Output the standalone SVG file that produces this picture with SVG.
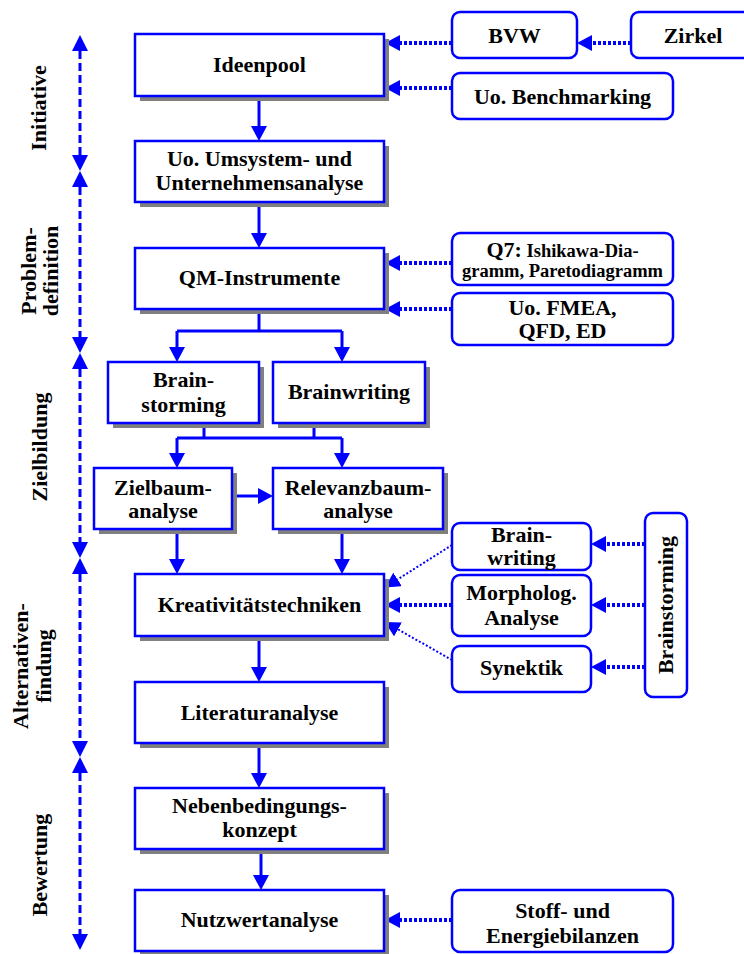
<svg xmlns="http://www.w3.org/2000/svg" width="744" height="954" viewBox="0 0 744 954">
  <defs>
    <style>
      .box { fill: #ffffff; stroke: #0000ff; stroke-width: 2.5; }
      .shadow { fill: #808080; }
      .rbox { fill: #ffffff; stroke: #0000ff; stroke-width: 2.5; }
      .t { font-family: "Liberation Serif", "Times New Roman", serif; font-weight: bold; font-size: 22px; fill: #000000; text-anchor: middle; }
      .ts { font-size: 18.5px; }
      .solid { fill: none; stroke: #0000ff; stroke-width: 3; }
      .dotted { fill: none; stroke: #0000ff; stroke-width: 4; stroke-dasharray: 3 2; }
      .fine { fill: none; stroke: #0000ff; stroke-width: 2; stroke-dasharray: 2 2; }
      .dashed { fill: none; stroke: #0000ff; stroke-width: 3; stroke-dasharray: 8 4; }
    </style>
    <marker id="ah" viewBox="0 0 15 16" markerUnits="userSpaceOnUse" markerWidth="15" markerHeight="16" refX="0" refY="8" orient="auto">
      <path d="M0,0 L15,8 L0,16 Z" fill="#0000ff"/>
    </marker>
    <marker id="ahs" viewBox="0 0 16 16" markerUnits="userSpaceOnUse" markerWidth="16" markerHeight="16" refX="0" refY="8" orient="auto-start-reverse">
      <path d="M0,0 L16,8 L0,16 Z" fill="#0000ff"/>
    </marker>
  </defs>

  <rect width="744" height="954" fill="#ffffff"/>

  <!-- phase axis on the left: one double-headed dashed arrow per phase -->
  <g id="phases">
    <path class="dashed" d="M80,51 V155" marker-start="url(#ahs)" marker-end="url(#ahs)"/>
    <path class="dashed" d="M80,187 V337" marker-start="url(#ahs)" marker-end="url(#ahs)"/>
    <path class="dashed" d="M80,369 V542" marker-start="url(#ahs)" marker-end="url(#ahs)"/>
    <path class="dashed" d="M80,574 V741" marker-start="url(#ahs)" marker-end="url(#ahs)"/>
    <path class="dashed" d="M80,773 V934" marker-start="url(#ahs)" marker-end="url(#ahs)"/>
    <text class="t" transform="rotate(-90 46 108)" x="46" y="108">Initiative</text>
    <text class="t" transform="rotate(-90 36 271)" x="36" y="271">Problem-</text>
    <text class="t" transform="rotate(-90 58 271)" x="58" y="271">definition</text>
    <text class="t" transform="rotate(-90 47 447)" x="47" y="447">Zielbildung</text>
    <text class="t" transform="rotate(-90 28 666)" x="28" y="666">Alternativen-</text>
    <text class="t" transform="rotate(-90 51 666)" x="51" y="666">findung</text>
    <text class="t" transform="rotate(-90 47 865)" x="47" y="865">Bewertung</text>
  </g>

  <!-- connectors -->
  <g id="connectors">
    <path class="solid" d="M259,96 V126" marker-end="url(#ah)"/>
    <path class="solid" d="M259,202 V233" marker-end="url(#ah)"/>
    <path class="solid" d="M259,309 V331 M177,331 H342"/>
    <path class="solid" d="M177,331 V347" marker-end="url(#ah)"/>
    <path class="solid" d="M342,331 V347" marker-end="url(#ah)"/>
    <path class="solid" d="M204,423 V438 M314,423 V438 M177,438 H342"/>
    <path class="solid" d="M177,438 V453" marker-end="url(#ah)"/>
    <path class="solid" d="M342,438 V453" marker-end="url(#ah)"/>
    <path class="solid" d="M232,496 H258" marker-end="url(#ah)"/>
    <path class="solid" d="M177,529 V559" marker-end="url(#ah)"/>
    <path class="solid" d="M342,529 V559" marker-end="url(#ah)"/>
    <path class="solid" d="M259,636 V667" marker-end="url(#ah)"/>
    <path class="solid" d="M259,743 V773" marker-end="url(#ah)"/>
    <path class="solid" d="M261,849 V875" marker-end="url(#ah)"/>

    <path class="dotted" d="M631,43 H592" marker-end="url(#ah)"/>
    <path class="dotted" d="M452,43 H400" marker-end="url(#ah)"/>
    <path class="dotted" d="M452,88 H400" marker-end="url(#ah)"/>
    <path class="dotted" d="M452,263 H400" marker-end="url(#ah)"/>
    <path class="dotted" d="M452,309 H400" marker-end="url(#ah)"/>
    <path class="dotted" d="M452,605 H400" marker-end="url(#ah)"/>
    <path class="fine" d="M452,545 L397.6,579.4" marker-end="url(#ah)"/>
    <path class="fine" d="M452,660 L398,629.4" marker-end="url(#ah)"/>
    <path class="dotted" d="M645,544 H606" marker-end="url(#ah)"/>
    <path class="dotted" d="M645,605 H606" marker-end="url(#ah)"/>
    <path class="dotted" d="M645,667 H606" marker-end="url(#ah)"/>
    <path class="dotted" d="M452,920 H400" marker-end="url(#ah)"/>
  </g>

  <!-- main process boxes -->
  <g id="ideenpool">
    <rect class="shadow" x="140" y="39" width="249" height="62"/>
    <rect class="box" x="135" y="34" width="249" height="62"/>
    <text class="t" x="259.5" y="72">Ideenpool</text>
  </g>
  <g id="umsystem">
    <rect class="shadow" x="140" y="146" width="249" height="61"/>
    <rect class="box" x="135" y="141" width="249" height="61"/>
    <text class="t" x="259.5" y="166">Uo. Umsystem- und</text>
    <text class="t" x="259.5" y="190">Unternehmensanalyse</text>
  </g>
  <g id="qm">
    <rect class="shadow" x="140" y="253" width="249" height="61"/>
    <rect class="box" x="135" y="248" width="249" height="61"/>
    <text class="t" x="259.5" y="285">QM-Instrumente</text>
  </g>
  <g id="brainstorming">
    <rect class="shadow" x="113" y="367" width="151" height="61"/>
    <rect class="box" x="108" y="362" width="151" height="61"/>
    <text class="t" x="183.5" y="387">Brain-</text>
    <text class="t" x="183.5" y="412">storming</text>
  </g>
  <g id="brainwriting">
    <rect class="shadow" x="278" y="367" width="152" height="61"/>
    <rect class="box" x="273" y="362" width="152" height="61"/>
    <text class="t" x="349" y="399">Brainwriting</text>
  </g>
  <g id="zielbaum">
    <rect class="shadow" x="99" y="473" width="138" height="61"/>
    <rect class="box" x="94" y="468" width="138" height="61"/>
    <text class="t" x="163" y="495">Zielbaum-</text>
    <text class="t" x="163" y="518">analyse</text>
  </g>
  <g id="relevanzbaum">
    <rect class="shadow" x="278" y="473" width="170" height="61"/>
    <rect class="box" x="273" y="468" width="170" height="61"/>
    <text class="t" x="358" y="495">Relevanzbaum-</text>
    <text class="t" x="358" y="518">analyse</text>
  </g>
  <g id="kreativ">
    <rect class="shadow" x="140" y="579" width="249" height="62"/>
    <rect class="box" x="135" y="574" width="249" height="62"/>
    <text class="t" x="259.5" y="612">Kreativitätstechniken</text>
  </g>
  <g id="literatur">
    <rect class="shadow" x="140" y="687" width="249" height="61"/>
    <rect class="box" x="135" y="682" width="249" height="61"/>
    <text class="t" x="259.5" y="720">Literaturanalyse</text>
  </g>
  <g id="nebenbedingungen">
    <rect class="shadow" x="140" y="793" width="249" height="61"/>
    <rect class="box" x="135" y="788" width="249" height="61"/>
    <text class="t" x="259.5" y="813">Nebenbedingungs-</text>
    <text class="t" x="259.5" y="837">konzept</text>
  </g>
  <g id="nutzwert">
    <rect class="shadow" x="140" y="895" width="249" height="61"/>
    <rect class="box" x="135" y="890" width="249" height="61"/>
    <text class="t" x="259.5" y="927">Nutzwertanalyse</text>
  </g>

  <!-- supporting methods (rounded) -->
  <g id="bvw">
    <rect class="rbox" x="452" y="12" width="125" height="46" rx="8"/>
    <text class="t" x="514.5" y="43">BVW</text>
  </g>
  <g id="zirkel">
    <rect class="rbox" x="631" y="12" width="125" height="46" rx="8"/>
    <text class="t" x="693" y="43">Zirkel</text>
  </g>
  <g id="benchmarking">
    <rect class="rbox" x="452" y="73" width="221" height="46" rx="8"/>
    <text class="t" x="562.5" y="104">Uo. Benchmarking</text>
  </g>
  <g id="q7">
    <rect class="rbox" x="452" y="233" width="221" height="52" rx="8"/>
    <text class="t" x="562.5" y="257">Q7:<tspan class="ts"> Ishikawa-Dia-</tspan></text>
    <text class="t ts" x="562.5" y="277">gramm, Paretodiagramm</text>
  </g>
  <g id="fmea">
    <rect class="rbox" x="452" y="293" width="221" height="52" rx="8"/>
    <text class="t" x="562.5" y="315">Uo. FMEA,</text>
    <text class="t" x="562.5" y="338">QFD, ED</text>
  </g>
  <g id="brainwriting2">
    <rect class="rbox" x="452" y="523" width="139" height="47" rx="8"/>
    <text class="t" x="521.5" y="542">Brain-</text>
    <text class="t" x="521.5" y="565">writing</text>
  </g>
  <g id="morpholog">
    <rect class="rbox" x="452" y="575" width="139" height="61" rx="8"/>
    <text class="t" x="521.5" y="600">Morpholog.</text>
    <text class="t" x="521.5" y="625">Analyse</text>
  </g>
  <g id="synektik">
    <rect class="rbox" x="452" y="646" width="139" height="46" rx="8"/>
    <text class="t" x="521.5" y="675">Synektik</text>
  </g>
  <g id="brainstorming2">
    <rect class="rbox" x="645" y="513" width="42" height="184" rx="8"/>
    <text class="t" transform="rotate(-90 673 605)" x="673" y="605">Brainstorming</text>
  </g>
  <g id="bilanzen">
    <rect class="rbox" x="452" y="890" width="221" height="62" rx="8"/>
    <text class="t" x="562.5" y="918">Stoff- und</text>
    <text class="t" x="562.5" y="943">Energiebilanzen</text>
  </g>
</svg>
